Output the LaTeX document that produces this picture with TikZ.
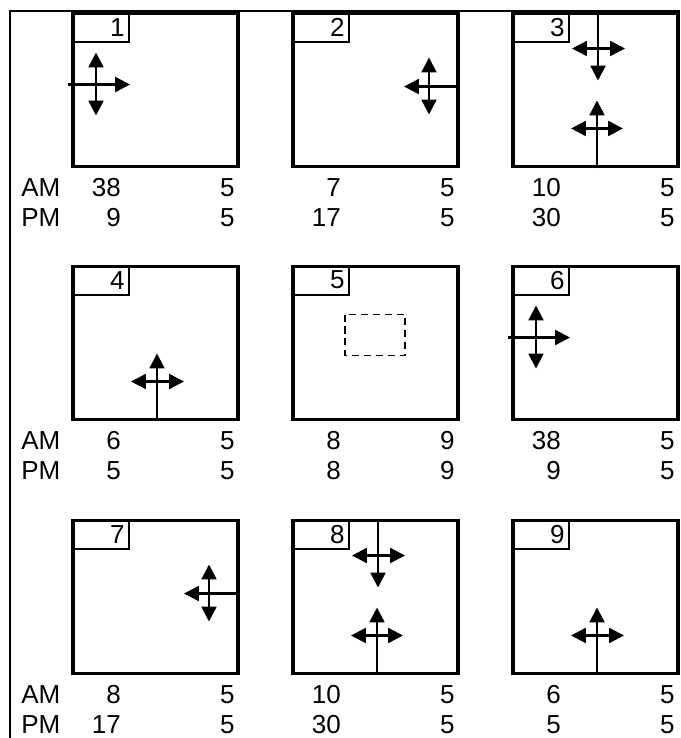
\documentclass[tikz,border=0pt]{standalone}
\usepackage{fontspec}
\setmainfont{Liberation Sans}
\usetikzlibrary{arrows.meta, positioning, calc}
\newcommand{\counts}[5]{%
  \node[cnt] (#1-aml) at ($(#1.south west)+(50,28)$) {#2};
  \node[cnt] (#1-amr) at ($(#1.south east)+(-5,28)$) {#3};
  \node[cnt] (#1-pml) at ($(#1.south west)+(50,58)$) {#4};
  \node[cnt] (#1-pmr) at ($(#1.south east)+(-5,58)$) {#5};
}

\begin{document}
\begin{tikzpicture}[x=0.025cm, y=-0.025cm,
    panel/.style={rectangle, draw, line width=2.8pt, minimum width=4.125cm,
                  minimum height=3.825cm, inner sep=0pt},
    tag/.style={rectangle, draw, line width=1.5pt, anchor=north west,
                minimum height=0.725cm, text width=1.2cm, inner xsep=0.1125cm,
                inner ysep=0pt, align=right, font=\fontsize{18.5}{20}\selectfont},
    cnt/.style={anchor=base east, inner sep=0pt, font=\fontsize{18.5}{20}\selectfont},
    hour/.style={anchor=base west, inner sep=0pt, font=\fontsize{18.5}{20}\selectfont},
    go/.style={-{Triangle[length=0.37cm, width=0.37cm]}, line width=1.7pt},
    both/.style={{Triangle[length=0.37cm, width=0.37cm]}-{Triangle[length=0.37cm, width=0.37cm]},
                 line width=1.7pt},
    zone/.style={draw, line width=1pt, dash pattern=on 5pt off 3.5pt},
    frame/.style={line width=1.6pt}
]
\useasboundingbox (0,0) rectangle (680,738);
\draw[frame] (10,738) -- (10,11) -- (680,11);

% panels
\node[panel] (p1) at (155.5,90) {};
\node[panel] (p2) at (375.5,90) {};
\node[panel] (p3) at (595.5,90) {};
\node[panel] (p4) at (155.5,343) {};
\node[panel] (p5) at (375.5,343) {};
\node[panel] (p6) at (595.5,343) {};
\node[panel] (p7) at (155.5,597) {};
\node[panel] (p8) at (375.5,597) {};
\node[panel] (p9) at (595.5,597) {};

\node[tag] (t1) at (p1.north west) {1};
\node[tag] (t2) at (p2.north west) {2};
\node[tag] (t3) at (p3.north west) {3};
\node[tag] (t4) at (p4.north west) {4};
\node[tag] (t5) at (p5.north west) {5};
\node[tag] (t6) at (p6.north west) {6};
\node[tag] (t7) at (p7.north west) {7};
\node[tag] (t8) at (p8.north west) {8};
\node[tag] (t9) at (p9.north west) {9};

% movements
\draw[go] ($(p1.north west)+(-3,73)$) -- ++(62,0);
\draw[both] ($(p1.north west)+(25,41)$) -- ++(0,63);

\draw[go] ($(p2.north east)+(0,75)$) -- ++(-56,0);
\draw[both] ($(p2.north east)+(-31,46)$) -- ++(0,57);

\draw[go] ($(p3.north west)+(87,0)$) -- ++(0,69);
\draw[both] ($(p3.north west)+(61,37)$) -- ++(53,0);
\draw[go] ($(p3.south west)+(86,0)$) -- ++(0,-68);
\draw[both] ($(p3.south west)+(60,-40)$) -- ++(52,0);

\draw[go] ($(p4.south west)+(86,0)$) -- ++(0,-68);
\draw[both] ($(p4.south west)+(60,-40)$) -- ++(53,0);

\draw[zone] ($(p5.north west)+(54,50)$) rectangle ++(60,41);

\draw[go] ($(p6.north west)+(-3,73)$) -- ++(62,0);
\draw[both] ($(p6.north west)+(25,41)$) -- ++(0,63);

\draw[go] ($(p7.north east)+(0,75)$) -- ++(-56,0);
\draw[both] ($(p7.north east)+(-31,46)$) -- ++(0,57);

\draw[go] ($(p8.north west)+(87,0)$) -- ++(0,69);
\draw[both] ($(p8.north west)+(61,37)$) -- ++(53,0);
\draw[go] ($(p8.south west)+(86,0)$) -- ++(0,-68);
\draw[both] ($(p8.south west)+(60,-40)$) -- ++(52,0);

\draw[go] ($(p9.south west)+(86,0)$) -- ++(0,-68);
\draw[both] ($(p9.south west)+(60,-40)$) -- ++(53,0);

% AM / PM counts
\node[hour] (am1) at ($(p1.south west)+(-50,28)$) {AM};
\node[hour] (pm1) at ($(p1.south west)+(-50,58)$) {PM};
\node[hour] (am2) at ($(p4.south west)+(-50,28)$) {AM};
\node[hour] (pm2) at ($(p4.south west)+(-50,58)$) {PM};
\node[hour] (am3) at ($(p7.south west)+(-50,28)$) {AM};
\node[hour] (pm3) at ($(p7.south west)+(-50,58)$) {PM};

\counts{p1}{38}{5}{9}{5}
\counts{p2}{7}{5}{17}{5}
\counts{p3}{10}{5}{30}{5}
\counts{p4}{6}{5}{5}{5}
\counts{p5}{8}{9}{8}{9}
\counts{p6}{38}{5}{9}{5}
\counts{p7}{8}{5}{17}{5}
\counts{p8}{10}{5}{30}{5}
\counts{p9}{6}{5}{5}{5}
\end{tikzpicture}
\end{document}
